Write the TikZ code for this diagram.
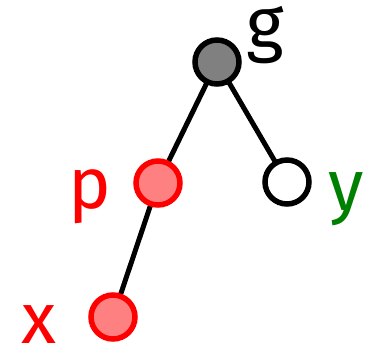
\documentclass[tikz,border=0pt]{standalone}
\usepackage{fontspec}
\setmainfont{Fira Sans}
\begin{document}
\begin{tikzpicture}[x=1pt,y=-1pt,
  vertex/.style={circle,draw,line width=5.5pt,minimum size=44pt,inner sep=0pt},
  edge/.style={line width=5pt},
  lbl/.style={font=\fontsize{72}{72}\selectfont,anchor=base,inner sep=0pt}]
\definecolor{lred}{HTML}{FF8080}
\definecolor{dgreen}{HTML}{008000}
\useasboundingbox (0,0) rectangle (378,351);
\coordinate (cg) at (217,62);
\coordinate (cp) at (158,183);
\coordinate (cy) at (287,182);
\coordinate (cx) at (113,317);
\draw[edge] (cg) -- (cp);
\draw[edge] (cg) -- (cy);
\draw[edge] (cp) -- (cx);
\node[vertex,fill=gray] (g) at (cg) {};
\node[vertex,draw=red,fill=lred] (p) at (cp) {};
\node[vertex,fill=white] (y) at (cy) {};
\node[vertex,draw=red,fill=lred] (x) at (cx) {};
\node[lbl] (lg) at (265,48) {g};
\node[lbl,text=red] (lp) at (90,208) {p};
\node[lbl,text=dgreen] (ly) at (346,210) {y};
\node[lbl,text=red] (lx) at (39,343) {x};
\end{tikzpicture}
\end{document}
